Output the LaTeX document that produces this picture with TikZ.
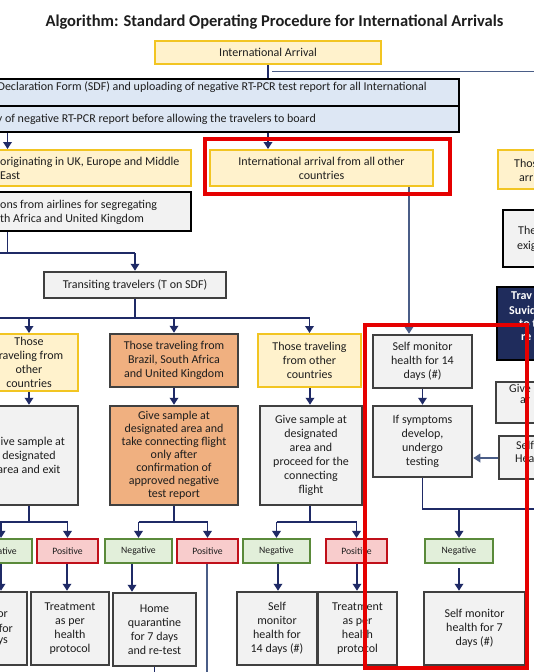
\documentclass[tikz,border=0pt]{standalone}
\usepackage{fontspec}
\setmainfont{Carlito}
\usetikzlibrary{arrows.meta,calc}
\definecolor{navy}{HTML}{1F2A66}
\definecolor{slate}{HTML}{4A5D87}
\definecolor{yfill}{HTML}{FFF2CC}
\definecolor{ybord}{HTML}{F2C522}
\definecolor{bfill}{HTML}{DDE7F4}
\definecolor{gfill}{HTML}{F2F2F2}
\definecolor{gbord}{HTML}{404040}
\definecolor{ofill}{HTML}{F0B080}
\definecolor{nfill}{HTML}{E2EFDA}
\definecolor{nbord}{HTML}{5A8A3A}
\definecolor{pfill}{HTML}{F8CCCC}
\definecolor{pbord}{HTML}{C0101A}
\definecolor{redline}{HTML}{E50000}
\definecolor{navyfill}{HTML}{1F2C5C}
\definecolor{txt}{HTML}{1E1E1E}
\newcommand{\fsmain}{\fontsize{12}{14}\selectfont}
\newcommand{\fstight}{\fontsize{12}{13}\selectfont}
\newcommand{\fssmall}{\fontsize{9.7}{11}\selectfont}
\tikzset{
  box/.style={draw, line width=2.2pt, inner sep=0pt, align=center, font=\fsmain, text=txt},
  ybox/.style={box, draw=ybord, fill=yfill, line width=2pt},
  bbox/.style={box, draw=black, fill=bfill},
  gybox/.style={box, draw=gbord, fill=gfill, line width=2.5pt},
  kbox/.style={box, draw=black, fill=gfill, line width=2.8pt},
  obox/.style={box, draw=gbord, fill=ofill, line width=2.5pt},
  negbox/.style={box, draw=nbord, fill=nfill, font=\fssmall},
  posbox/.style={box, draw=pbord, fill=pfill, font=\fssmall},
  navybox/.style={box, draw=black, fill=navyfill, line width=2.5pt},
  lbl/.style={inner sep=0pt, font=\fsmain, text=txt},
  wlbl/.style={inner sep=0pt, font=\fsmain\bfseries, text=white},
  conn/.style={draw=navy, line width=1.8pt},
  arr/.style={conn, -{Triangle[width=8.5pt,length=7pt]}},
  sconn/.style={draw=slate, line width=1.7pt},
  sarr/.style={sconn, -{Triangle[width=8.5pt,length=7pt]}},
  redframe/.style={draw=redline, line width=3.4pt}
}
\begin{document}
\begin{tikzpicture}[x=1pt,y=-1pt]
\path[use as bounding box] (0,0) rectangle (534,672);
\clip (0,0) rectangle (534,672);
\fill[white] (0,0) rectangle (534,672);

% title
\node[inner sep=0pt, font=\fontsize{16.5}{19}\selectfont\bfseries, text=txt] (title) at (274.5,22.5) {Algorithm: Standard Operating Procedure for International Arrivals};

% top boxes
\node[ybox, minimum width=226pt, minimum height=23pt] (arrival) at (268,52.5) {International Arrival};
\node[bbox, minimum width=480pt, minimum height=27pt] (sdf1) at (219,92.5) {};
\node[bbox, minimum width=480pt, minimum height=26pt] (sdf2) at (219,119) {};
\node[lbl, anchor=east] (sdf1t) at (427,87) {Declaration Form (SDF) and uploading of negative RT-PCR test report for all International};
\node[lbl, anchor=east] (sdf2t) at (316,119.5) {y of negative RT-PCR report before allowing the travelers to board};

\node[ybox, minimum width=211pt, minimum height=36pt] (uk) at (85.5,168) {};
\node[lbl, anchor=west, align=left] (ukt) at (0,168) {originating in UK, Europe and Middle\\East};
\node[ybox, minimum width=223pt, minimum height=36pt] (intl) at (321.5,168) {International arrival from all other\\countries};

\node[kbox, minimum width=211pt, minimum height=39pt] (airl) at (85.5,211.5) {};
\node[lbl, anchor=west, align=left] (airlt) at (0,212) {ons from airlines for segregating\\th Africa and United Kingdom};

\node[gybox, minimum width=182pt, minimum height=26pt] (transit) at (135,285) {Transiting travelers (T on SDF)};

% right clipped column
\node[ybox, minimum width=70pt, minimum height=39pt] (thoseR) at (533,169.5) {};
\node[lbl, anchor=west] (thoseRa) at (514,163) {Thos};
\node[lbl, anchor=west] (thoseRb) at (519,177) {arri};
\node[kbox, minimum width=70pt, minimum height=57pt] (exig) at (538,238.5) {};
\node[lbl, anchor=west] (exiga) at (518,230) {The};
\node[lbl, anchor=west] (exigb) at (517,246) {exig};
\node[navybox, minimum width=70pt, minimum height=73pt] (navyb) at (532,323.5) {};
\node[wlbl, anchor=west] (navya) at (511,296) {Trav};
\node[wlbl, anchor=west] (navyb2) at (509,310) {Suvid};
\node[wlbl, anchor=west] (navyc) at (519,324) {to t};
\node[wlbl, anchor=west] (navyd) at (521,338) {re};
\node[gybox, minimum width=70pt, minimum height=41pt] (giveR) at (531,402.5) {};
\node[lbl, anchor=west] (giveRa) at (509,388) {Give};
\node[lbl, anchor=west] (giveRb) at (520,401) {ar};
\node[gybox, minimum width=70pt, minimum height=43pt] (selfhea) at (534,457.5) {};
\node[lbl, anchor=west] (selfheaa) at (516,445) {Self};
\node[lbl, anchor=west] (selfheab) at (515,459) {Hea};

% level 2
\node[ybox, minimum width=98pt, minimum height=57pt] (otherL) at (29,362.5) {Those\\traveling from\\other\\countries};
\node[obox, minimum width=128pt, minimum height=53pt] (brazil) at (174,360.5) {Those traveling from\\Brazil, South Africa\\and United Kingdom};
\node[ybox, minimum width=103pt, minimum height=53pt] (otherM) at (309.5,360.5) {Those traveling\\from other\\countries};
\node[gybox, minimum width=99pt, minimum height=53pt] (mon14) at (422.5,361.5) {Self monitor\\health for 14\\days (\#)};

\node[gybox, minimum width=98pt, minimum height=99pt] (sampleL) at (29,455.5) {Give sample at\\designated\\area and exit};
\node[obox, minimum width=128pt, minimum height=99pt, font=\fstight] (sampleB) at (174,455.5) {Give sample at\\designated area and\\take connecting flight\\only after\\confirmation of\\approved negative\\test report};
\node[gybox, minimum width=102pt, minimum height=99pt] (sampleM) at (311,455.5) {Give sample at\\designated\\area and\\proceed for the\\connecting\\flight};
\node[gybox, minimum width=99pt, minimum height=71pt] (sympt) at (422.5,441.5) {If symptoms\\develop,\\undergo\\testing};

% results
\node[negbox, minimum width=62pt, minimum height=24pt] (negL) at (1,551) {};
\node[inner sep=0pt, font=\fssmall, text=txt, anchor=east] (negLt) at (17,551.5) {ative};
\node[posbox, minimum width=61pt, minimum height=24pt] (posL) at (67.5,551) {Positive};
\node[negbox, minimum width=67pt, minimum height=24pt] (negB) at (138.5,551) {Negative};
\node[posbox, minimum width=61pt, minimum height=24pt] (posB) at (207.5,551) {Positive};
\node[negbox, minimum width=67pt, minimum height=24pt] (negM) at (276.5,551) {Negative};
\node[posbox, minimum width=61pt, minimum height=24pt] (posM) at (356.5,551) {Positive};
\node[negbox, minimum width=68pt, minimum height=24pt] (negR) at (459,551) {Negative};

% bottom
\node[gybox, minimum width=77pt, minimum height=73pt] (monL) at (-11.5,628.5) {};
\node[lbl, anchor=east] (monLa) at (8,615) {or};
\node[lbl, anchor=east] (monLb) at (13,628.5) {for};
\node[lbl, anchor=east] (monLc) at (8,642) {ys};
\node[gybox, minimum width=78pt, minimum height=73pt] (treatL) at (70,628.5) {Treatment\\as per\\health\\protocol};
\node[gybox, minimum width=83pt, minimum height=73pt] (home) at (154.5,629.5) {Home\\quarantine\\for 7 days\\and re-test};
\node[gybox, minimum width=80pt, minimum height=73pt] (monM) at (277,628.5) {Self\\monitor\\health for\\14 days (\#)};
\node[gybox, minimum width=79pt, minimum height=73pt] (treatM) at (357.5,628.5) {Treatment\\as per\\health\\protocol};
\node[gybox, minimum width=101pt, minimum height=73pt] (mon7) at (474.5,628.5) {Self monitor\\health for 7\\days (\#)};

% coordinates for free ends
\coordinate (topR) at (545,71.4);
\coordinate (topL) at (272,71.4);
\coordinate (leftA) at (-5,253);
\coordinate (leftB) at (-5,318);
\coordinate (leftC) at (-5,522);
\coordinate (rightD) at (545,509);
\coordinate (bottomP) at (207,680);
\coordinate (bottomH) at (154.5,680);

% connectors
\draw[conn] (arrival.south) -- (sdf1.north -| arrival.south);
\draw[sconn] (topL) -- (topR);
\draw[arr] (sdf2.south -| 7.5,0) -- (uk.north -| 7.5,0);
\draw[arr] (sdf2.south -| 268,0) -- (intl.north -| 268,0);
\draw[conn] (airl.south -| 7.5,0) -- (7.5,253) -- (135,253);
\draw[conn] (7.5,253) -- (leftA);
\draw[arr] (135,253) -- (transit.north);
\draw[conn] (transit.south) -- (135,318);
\draw[conn] (leftB) -- (309.5,318);
\draw[arr] (29,318) -- (otherL.north);
\draw[arr] (174,318) -- (brazil.north);
\draw[arr] (309.5,318) -- (otherM.north);
\draw[sarr] (intl.south -| 409,0) -- (mon14.north -| 409,0);
\draw[arr] (otherL) -- (sampleL);
\draw[arr] (brazil) -- (sampleB);
\draw[arr] (otherM.south -| 310,0) -- (sampleM.north -| 310,0);
\draw[arr] (mon14) -- (sympt);
\draw[sarr] (selfhea.west |- 0,458) -- (sympt.east |- 0,458);

\draw[conn] (sampleL.south) -- (29,522);
\draw[conn] (leftC) -- (67.5,522);
\draw[arr] (1,522) -- (negL.north);
\draw[arr] (67.5,522) -- (posL.north);
\draw[conn] (sampleB.south) -- (174,522);
\draw[conn] (138.5,522) -- (207.5,522);
\draw[arr] (138.5,522) -- (negB.north);
\draw[arr] (207.5,522) -- (posB.north);
\draw[conn] (sampleM.south -| 310,0) -- (310,522);
\draw[conn] (276.5,522) -- (356.5,522);
\draw[arr] (276.5,522) -- (negM.north);
\draw[arr] (356.5,522) -- (posM.north);
\draw[conn] (sympt.south) -- (422.5,509) -- (rightD);
\draw[arr] (459,509) -- (negR.north);

\draw[arr] (negL.south -| 1,0) -- (monL.north -| 1,0);
\draw[arr] (posL.south -| 67,0) -- (treatL.north -| 67,0);
\draw[arr] (negB.south -| 132,0) -- (home.north -| 132,0);
\draw[sconn, line width=1.3pt] (posB.south -| 207,0) -- (bottomP);
\draw[arr] (negM.south -| 278,0) -- (monM.north -| 278,0);
\draw[arr] (posM.south -| 357,0) -- (treatM.north -| 357,0);
\draw[arr] ($(negR.south)+(0,4)$) -- (mon7.north -| negR.south);
\draw[conn] (home.south) -- (bottomH);

% red highlight frames
\draw[redframe] (205,139) rectangle (450,194);
\draw[redframe] (365,325) rectangle (527,668);
\end{tikzpicture}
\end{document}
